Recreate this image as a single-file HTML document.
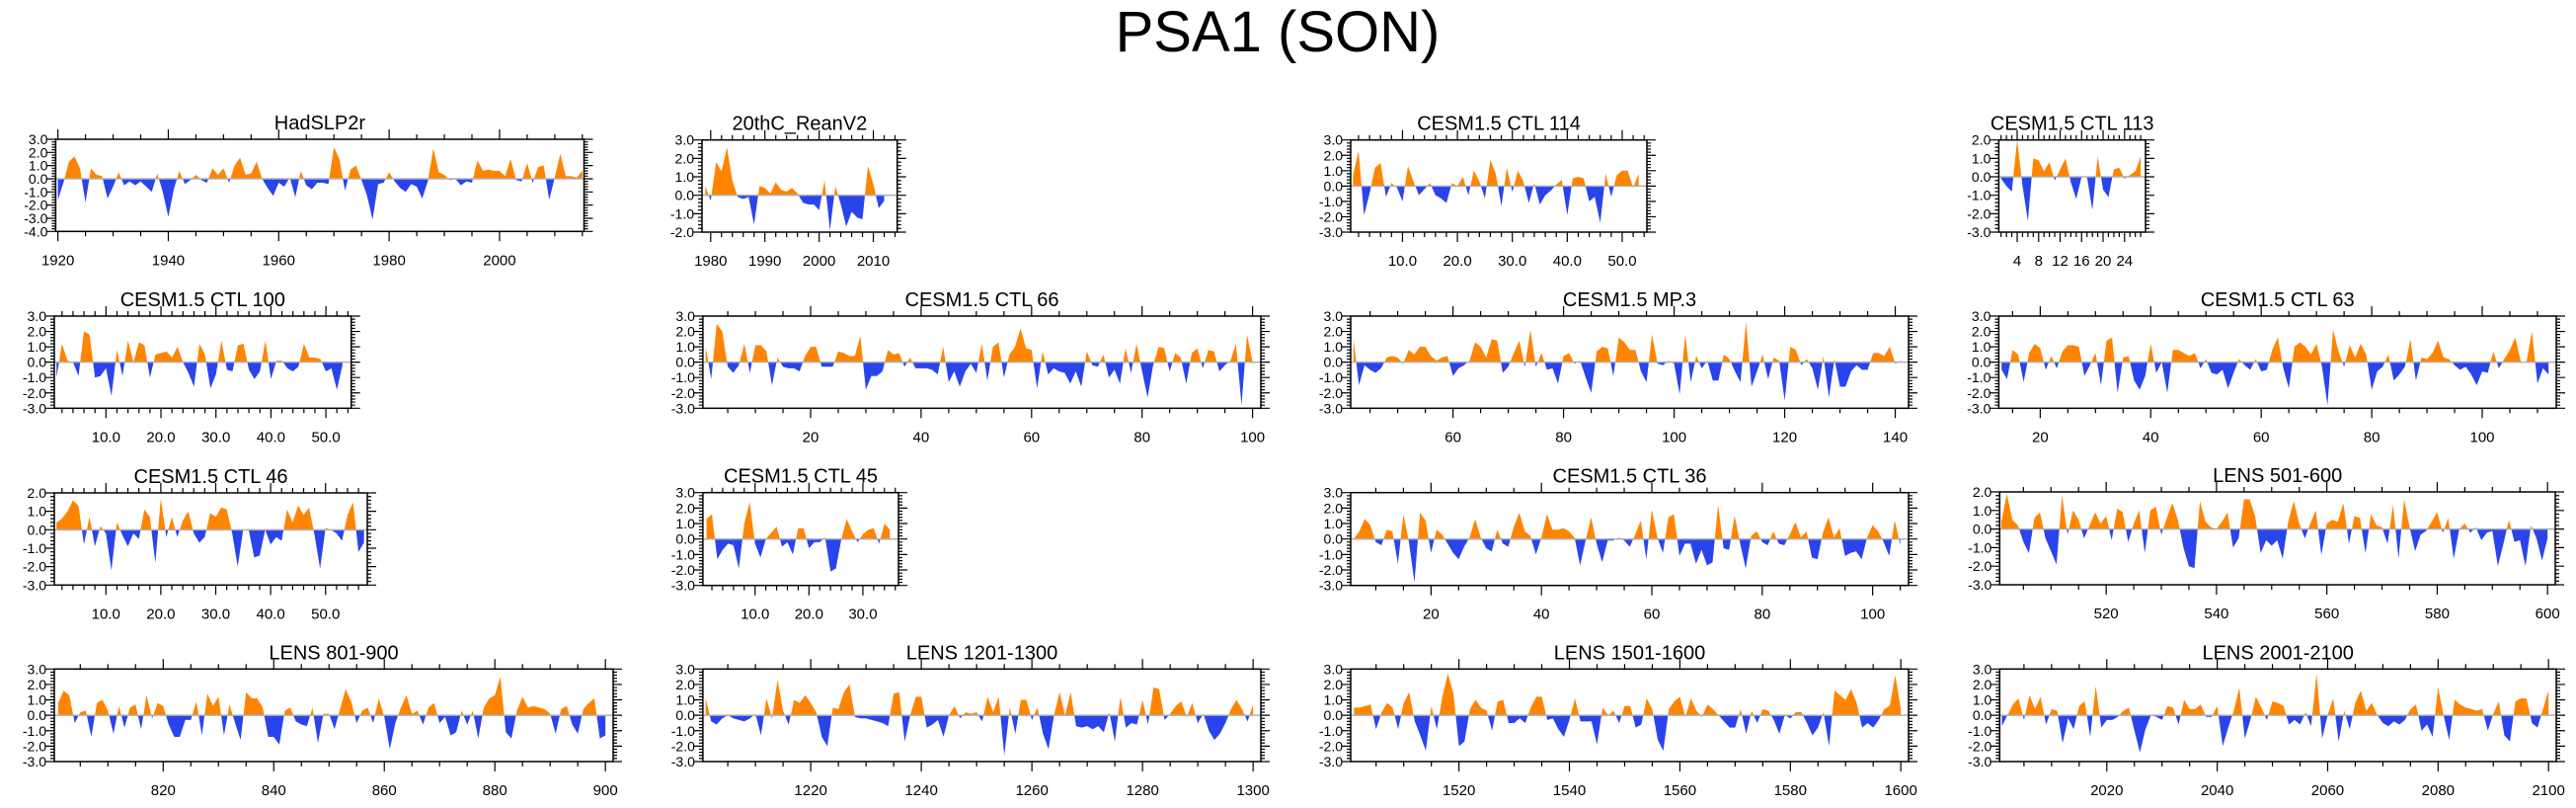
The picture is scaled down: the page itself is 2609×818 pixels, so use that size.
<!DOCTYPE html>
<html><head><meta charset="utf-8"><title>PSA1 (SON)</title>
<style>
html,body{margin:0;padding:0;background:#fff;}
svg text{font-family:"Liberation Sans",Arial,sans-serif;fill:#000;}
</style></head>
<body>
<svg id="fig" xmlns="http://www.w3.org/2000/svg" width="2609" height="813" viewBox="0 0 2609 813">
<rect width="2609" height="813" fill="#fff"/>
<text x="1294" y="52" font-size="58" text-anchor="middle">PSA1 (SON)</text>
</svg>
<script>
// ---- data ----
const titles = ["HadSLP2r","20thC_ReanV2","CESM1.5 CTL 114","CESM1.5 CTL 113",
 "CESM1.5 CTL 100","CESM1.5 CTL 66","CESM1.5 MP.3","CESM1.5 CTL 63",
 "CESM1.5 CTL 46","CESM1.5 CTL 45","CESM1.5 CTL 36","LENS 501-600",
 "LENS 801-900","LENS 1201-1300","LENS 1501-1600","LENS 2001-2100"];
const startX = [1920,1979,1,1,1,1,42,13,1,1,6,501,801,1201,1501,2001];
const yRanges = [[-4,3],[-2,3],[-3,3],[-3,2],[-3,3],[-3,3],[-3,3],[-3,3],[-3,2],[-3,3],[-3,3],[-3,2],[-3,3],[-3,3],[-3,3],[-3,3]];
const xRanges = [[1919.6,2015.3],[1978.4,2014.4],[0.57,54.5],[0.58,27.9],[0.6,54.6],[0.5,101.5],[41.5,142.4],[12.5,113.4],[0.6,57.6],[0.33,36.6],[5.45,106.5],[500.7,601.4],[800.3,901.4],[1200.5,1301.4],[1500.4,1601.4],[2000.6,2101.4]];
const majorSteps = [20,10,10,4,10,20,20,20,10,10,20,20,20,20,20,20];
const minorSteps = [5,2,2,1,2,5,5,5,2,2,5,5,5,5,5,5];
const labelDecimals = [0,0,1,0,1,0,0,0,1,1,0,0,0,0,0,0];

const s0 = [-1.6,-0.3,1.3,1.7,0.8,-1.8,0.8,0.3,0.2,-1.5,-0.6,0.5,-0.5,-0.2,-0.5,-0.2,-0.6,-1.0,0.4,-1.0,-2.9,-0.8,0.6,-0.4,-0.1,0.3,-0.1,-0.3,0.8,0.3,0.8,-0.3,1.0,1.6,0.3,0.4,1.3,0.0,-0.7,-1.3,-0.3,-0.6,0.1,-1.4,0.6,-0.5,-0.8,-0.3,-0.3,-0.4,2.4,1.5,-0.9,0.7,1.0,-0.1,-1.3,-3.1,-0.4,-0.3,0.5,-0.2,-0.7,-1.0,-0.4,-0.6,-1.5,-0.2,2.3,0.5,0.3,-0.1,0.0,-0.5,-0.2,-0.3,1.4,0.6,0.7,0.6,0.6,0.2,1.5,-0.1,-0.2,1.2,-0.3,0.9,1.0,-1.6,0.1,1.9,0.2,0.2,0.1,0.6];
const s1 = [0.5,-0.3,1.8,1.3,2.6,0.8,-0.1,-0.2,-0.1,-1.6,0.5,0.4,0.1,0.7,0.3,0.2,0.4,0.1,-0.4,-0.5,-0.5,-0.8,0.8,-1.9,0.5,-0.5,-1.7,-0.9,-1.2,-1.3,1.6,0.6,-0.7,-0.3];
const s2 = [0.7,2.3,-1.9,-0.5,1.2,1.5,-0.7,0.2,-0.1,-1.0,1.3,0.3,-0.6,-0.2,0.2,-0.6,-0.8,-1.1,0.2,0.0,0.6,-0.6,1.0,0.3,-0.8,1.7,0.8,-1.3,1.2,-0.4,1.0,0.3,-1.1,0.2,-1.2,-0.6,-0.3,0.1,0.4,-1.9,0.5,0.6,0.5,-1.0,-0.7,-2.4,0.8,-0.7,0.7,1.0,1.0,-0.1,0.8];
const s3 = [-0.1,-0.5,-0.8,2.0,-0.5,-2.4,1.0,0.9,0.3,0.8,-0.2,0.4,1.0,-0.3,-1.2,0.0,0.0,-1.8,1.1,-0.7,-1.1,0.4,0.5,-0.1,0.1,0.3,1.1];
const s4 = [-1.0,1.2,0.1,0.0,-0.9,2.0,1.8,-1.0,-0.9,-0.4,-2.2,0.8,-0.9,1.4,0.0,1.3,1.1,-1.0,0.5,0.6,0.7,0.3,1.0,0.0,-0.7,-1.6,1.2,0.5,-1.7,-0.8,1.4,-0.5,-0.6,1.1,1.2,-0.5,-1.1,-0.6,1.4,-1.1,0.1,0.1,-0.4,-0.6,-0.3,1.2,0.3,0.3,0.2,-0.6,-0.4,-1.8,-0.2];
const s5 = [1.0,-1.1,2.5,2.0,-0.3,-0.7,-0.2,1.2,-0.7,1.1,1.1,0.7,-1.5,0.3,-0.3,-0.4,-0.4,-0.6,0.4,1.0,1.0,-0.3,-0.3,-0.3,0.7,0.6,0.4,0.4,1.7,-1.8,-0.9,-0.9,-0.6,0.8,0.5,0.6,-0.3,0.3,-0.4,-0.4,-0.4,-0.5,-0.8,1.0,-1.3,-0.6,-1.6,-0.6,-0.1,-0.7,1.2,-1.2,1.0,1.3,-1.0,0.5,1.0,2.2,0.9,0.8,-1.7,0.7,-0.8,-0.4,-0.6,-0.7,-1.4,-0.6,-1.6,0.7,-0.2,-0.3,0.5,-1.0,-0.5,-1.4,0.9,-0.7,1.2,-0.6,-2.3,-0.2,1.0,0.9,-0.6,0.6,0.3,-1.4,0.6,0.9,-0.4,0.8,0.7,-0.6,-0.2,0.1,1.2,-2.8,1.8,0.0];
const s6 = [1.5,-1.5,-0.2,-0.5,-0.7,-0.4,0.3,0.4,0.3,-0.1,0.8,0.5,1.0,1.0,0.4,0.1,0.3,0.4,-0.9,-0.4,-0.2,0.1,1.3,1.0,0.3,1.5,1.4,-0.7,-0.3,0.6,1.4,-0.3,2.1,-0.3,0.6,-0.5,-0.4,-1.4,0.4,0.6,-0.1,0.1,-1.0,-2.0,0.7,1.0,0.9,-0.9,1.6,1.3,0.8,0.8,-0.6,-1.3,1.8,-0.1,-0.2,0.1,-0.1,-2.1,1.8,-1.3,0.4,-0.4,0.1,-1.2,-1.2,0.5,0.2,-0.6,-1.3,2.6,-1.6,-0.6,0.5,-1.1,0.3,0.1,-2.5,1.0,0.8,-0.2,0.2,-0.4,-1.8,0.4,-2.3,0.2,-1.6,-1.6,-0.6,-0.2,-0.5,-0.5,0.6,0.6,0.4,1.0,-0.1,0.1];
const s7 = [-0.5,-1.1,0.8,0.5,-1.3,0.6,1.2,0.9,-0.5,0.4,-0.4,0.7,1.1,1.1,1.0,-0.9,-0.2,0.6,-1.5,1.4,1.6,-2.0,0.3,0.4,-1.2,-1.8,-0.9,1.2,-0.7,0.0,-2.0,0.8,0.8,0.6,0.4,0.6,-0.4,0.2,-0.7,-0.8,-0.5,-1.7,-0.7,0.2,-0.2,-0.5,0.2,-0.6,-0.5,0.8,1.6,-0.4,-1.7,1.0,1.3,1.0,0.5,1.2,-0.3,-2.8,2.1,0.7,-0.3,1.1,0.3,1.2,0.5,-1.8,-0.6,-0.3,0.5,-1.2,-0.8,-0.3,1.5,-1.2,0.3,0.2,0.6,1.4,0.3,0.2,-0.2,-0.5,-0.3,-0.8,-1.5,-0.6,-0.7,0.7,-0.4,0.2,0.8,1.6,0.0,0.0,2.0,-1.4,-0.4,-0.8];
const s8 = [0.4,0.6,1.0,1.6,1.3,-0.8,0.7,-0.9,0.2,-0.2,-2.2,0.4,-0.3,-0.9,-0.2,-0.5,1.1,0.7,-1.8,1.7,-0.4,0.7,-0.4,0.5,1.0,-0.2,-0.7,-0.4,0.9,0.7,1.2,1.1,-0.2,-2.0,0.0,0.0,-1.5,-1.4,0.0,-0.8,-0.4,-0.6,1.1,0.4,1.3,0.8,1.2,-0.3,-2.1,0.1,0.0,-0.2,-0.6,0.8,1.5,-1.2,-0.7];
const s9 = [1.3,1.6,-1.3,-0.7,-0.3,-0.4,-1.9,1.0,2.4,-0.3,-1.2,0.0,0.4,0.8,-0.5,-0.2,-1.0,0.7,0.7,-0.6,-0.2,-0.2,0.1,-2.1,-1.9,0.0,1.3,0.5,-0.2,0.3,0.6,0.7,-0.3,1.0,0.6];
const s10 = [0.0,0.5,1.3,0.9,-0.2,-0.4,0.6,0.5,-1.6,1.6,-0.2,-2.8,1.7,1.2,-0.9,0.6,0.3,-0.3,-0.9,-1.3,-0.5,0.1,1.3,0.1,-0.6,-0.8,0.6,-0.3,-0.5,0.8,1.7,0.5,0.2,-1.0,0.1,1.6,0.6,0.6,0.7,0.5,0.1,-1.7,-0.1,1.4,-0.3,-1.5,-0.1,-0.1,0.1,-0.1,-0.5,0.3,1.2,-1.3,1.9,0.1,-0.9,1.4,1.6,-1.1,-0.3,-0.3,-1.6,-0.7,-1.7,-1.5,2.2,-0.6,-0.7,1.5,-0.3,-1.9,0.2,0.5,-0.2,-0.4,0.5,-0.3,-0.4,0.3,1.1,0.1,0.5,-1.2,-1.3,0.4,1.4,0.1,0.7,-1.1,-0.9,-0.8,-1.3,0.1,0.9,0.5,-0.2,-1.1,1.2,-0.4];
const s11 = [0.4,1.9,0.5,0.2,-0.7,-1.3,0.6,0.9,-0.5,-1.2,-1.9,1.8,-0.3,1.0,0.5,-0.5,0.2,0.9,0.3,0.7,-0.6,1.1,0.9,-0.7,0.3,1.0,-1.3,1.0,1.2,-0.3,0.6,1.4,0.5,-1.0,-2.0,-2.1,1.5,0.4,0.1,0.0,0.4,0.9,-1.0,-0.5,1.6,1.6,0.7,-1.3,-0.6,-0.9,-0.6,-1.6,0.4,1.5,0.3,-0.5,0.3,1.0,-1.4,0.3,0.5,0.4,1.4,-0.8,0.7,0.6,-1.3,0.8,0.2,0.1,-0.8,1.3,-1.6,1.6,0.1,-1.2,-0.3,-0.1,0.4,0.9,-0.2,0.6,-1.6,0.0,0.3,-0.2,0.1,-0.6,-0.2,-0.1,-2.0,-0.8,0.5,-0.7,-0.6,-2.0,0.2,-0.5,-1.7,-0.5];
const s12 = [0.8,1.6,1.3,-0.5,0.2,0.3,-1.4,0.8,1.0,0.3,-1.2,0.6,-0.8,0.5,0.7,-0.9,1.3,-0.2,0.8,0.6,-0.6,-1.4,-1.4,-0.3,-0.3,0.9,-1.3,1.4,0.6,1.2,-1.3,0.7,-0.5,-1.6,1.5,1.1,1.1,0.5,-1.4,-1.4,-1.9,0.3,0.5,-0.4,-0.6,-0.7,0.5,-1.8,0.1,0.1,-0.9,0.4,1.7,0.9,-0.5,0.3,0.5,-0.5,1.1,-0.1,-2.2,-0.5,0.5,1.3,0.1,0.3,-0.6,0.5,0.8,-0.5,-0.1,-1.3,-1.1,0.3,-0.6,0.3,-1.5,0.5,1.1,1.3,2.5,-1.1,-1.5,0.3,1.2,0.5,0.6,0.5,0.4,0.1,-1.2,0.4,0.6,-0.6,-1.2,0.4,0.8,1.1,-1.5,-1.3];
const s13 = [1.1,-0.4,-0.6,-0.2,0.0,-0.2,-0.3,-0.4,-0.2,0.1,-1.3,1.1,-0.2,2.3,0.3,-0.6,1.0,0.8,1.3,0.8,0.2,-1.4,-2.0,0.5,0.4,1.5,2.0,-0.1,-0.2,-0.2,-0.3,-0.4,-0.5,-0.7,1.4,1.5,-1.7,0.0,1.2,1.2,-0.8,-0.6,-0.3,-1.4,0.0,0.6,-0.2,0.2,0.1,0.2,-0.4,1.2,0.2,1.2,-2.6,0.5,-1.2,1.0,1.0,-0.3,0.5,-1.2,-2.2,0.0,1.5,0.0,1.5,-0.7,-0.8,-0.7,-0.9,-0.7,-1.1,0.2,-1.7,1.2,-0.8,-0.5,-0.6,1.0,-0.6,1.8,1.7,-0.3,0.1,0.6,0.9,-0.1,0.8,-0.5,0.1,-1.0,-1.6,-1.2,-0.5,0.4,1.0,0.4,-0.4,0.7];
const s14 = [0.5,0.5,0.6,0.7,-0.9,0.2,0.8,0.5,-0.9,0.8,1.5,-0.4,-1.3,-2.3,0.6,-0.9,1.2,2.7,1.4,-2.0,-1.7,0.4,1.0,0.5,0.3,-1.0,0.9,1.0,-0.5,-0.5,-0.2,-0.5,0.5,1.2,1.2,-0.3,-0.2,-0.9,-1.4,-0.3,1.1,-0.4,-0.4,-0.4,-1.9,0.5,0.0,0.3,-0.5,0.6,0.6,-0.8,-0.6,1.1,0.4,-1.6,-2.3,0.4,0.9,1.2,-0.1,1.1,0.3,-0.1,0.7,0.4,0.0,-0.4,-0.8,-0.8,0.4,-1.2,0.3,-0.5,0.4,0.3,-0.3,-1.2,0.0,-0.2,0.2,0.2,-0.5,-1.3,-0.8,0.2,-2.0,1.6,1.3,1.0,1.7,0.8,-0.8,-0.5,-0.8,-0.3,0.4,0.6,2.6,0.4];
const s15 = [-0.7,0.0,0.7,1.1,-0.3,1.3,0.4,1.2,-0.6,0.4,0.3,-1.8,-0.2,-0.9,0.6,0.9,-1.4,1.9,-0.8,-0.3,-0.3,-0.1,0.3,0.5,-1.0,-2.4,-0.9,0.0,-0.1,-0.3,0.6,0.5,-0.6,1.0,0.4,0.4,0.7,-0.1,-0.1,0.6,-2.0,-0.8,0.3,1.8,-1.5,-0.3,1.2,0.5,-0.3,0.9,0.8,0.6,-0.6,-0.3,-0.6,0.2,-0.7,2.7,-1.5,0.0,1.1,-1.7,0.3,-0.9,0.8,1.6,0.3,0.8,0.0,-0.5,-0.7,-0.4,-0.6,-0.3,0.4,0.7,-1.0,-0.6,-1.4,1.8,0.0,-1.6,1.0,0.7,0.5,0.4,0.3,0.4,-1.0,0.1,0.9,-1.3,-1.7,0.9,1.1,1.1,-0.5,-0.8,0.4,1.6];
const seriesValues = [s0,s1,s2,s3,s4,s5,s6,s7,s8,s9,s10,s11,s12,s13,s14,s15];

// ---- layout (pixel boxes, not data) ----
const boxes = [
 [56.4,591.5,141,234.3],[711,908.7,141.7,235],[1368,1668,141.7,235],[2024.4,2173,141.7,235],
 [55,355.7,320,413.3],[711.9,1277,320,413.3],[1368,1933,320,413.3],[2024.4,2589,320,413.3],
 [55,372,499,592.3],[711.9,910,498.7,592.7],[1368,1933,498.7,592.7],[2025.3,2588,498,592],
 [55,621,677.3,771],[711.9,1277,677.3,771],[1368,1933,677.3,771],[2025.3,2589,677.3,771]];

const NS = "http://www.w3.org/2000/svg";
const svg = document.getElementById('fig');
function mk(tag, attrs, parent){
  const e = document.createElementNS(NS, tag);
  for (const k in attrs) e.setAttribute(k, attrs[k]);
  (parent||svg).appendChild(e);
  return e;
}
const ORANGE = "#ff8400", BLUE = "#2a44ec";

seriesValues.forEach((vals, p) => {
  const [L,R,T,B] = boxes[p];
  const [xmin,xmax] = xRanges[p];
  const [ymin,ymax] = yRanges[p];
  const xs = v => L + (v - xmin) / (xmax - xmin) * (R - L);
  const ys = v => B - (v - ymin) / (ymax - ymin) * (B - T);
  const g = mk('g', {});
  
  

  // clip paths
  const y0 = ys(0);
  const cu = mk('clipPath', {id:'cu'+p}, g); mk('rect', {x:L, y:T, width:R-L, height:y0-T}, cu);
  const cd = mk('clipPath', {id:'cd'+p}, g); mk('rect', {x:L, y:y0, width:R-L, height:B-y0}, cd);

  let d = 'M' + xs(startX[p]).toFixed(2) + ' ' + y0.toFixed(2);
  vals.forEach((v,i) => { d += ' L' + xs(startX[p]+i).toFixed(2) + ' ' + ys(v).toFixed(2); });
  d += ' L' + xs(startX[p]+vals.length-1).toFixed(2) + ' ' + y0.toFixed(2) + ' Z';
  const up = mk('path', {d:d, fill:ORANGE, 'clip-path':'url(#cu'+p+')'}, g);
  
  
  const dn = mk('path', {d:d, fill:BLUE, 'clip-path':'url(#cd'+p+')'}, g);
  
  
  const zl = mk('line', {x1:L, x2:R, y1:y0, y2:y0, stroke:'#b0b0b0', 'stroke-width':1.5}, g);
  
  

  // frame
  const fr = mk('rect', {x:L, y:T, width:R-L, height:B-T, fill:'none', stroke:'#000', 'stroke-width':1.5}, g);
  
  

  // x ticks
  const mj = majorSteps[p], mn = minorSteps[p];
  let tp = '';
  for (let t = Math.ceil(xmin/mn)*mn; t <= xmax + 1e-9; t += mn) {
    const isMaj = Math.abs(t/mj - Math.round(t/mj)) < 1e-6;
    const len = isMaj ? 10 : 5, x = xs(t).toFixed(2);
    tp += `M${x} ${T} v${-len} M${x} ${B} v${len} `;
    if (isMaj) {
      const lab = mk('text', {x:x, y:B+34, 'font-size':15, 'text-anchor':'middle'}, g);
      lab.textContent = labelDecimals[p] ? t.toFixed(1) : String(Math.round(t));
      
      
    }
  }
  // y ticks
  for (let k = Math.round(ymin*5); k <= Math.round(ymax*5); k++) {
    const v = k/5, isMaj = k % 5 === 0, y = ys(v).toFixed(2);
    const len = isMaj ? 9 : 4;
    tp += `M${L} ${y} h${-len} M${R} ${y} h${len} `;
    if (isMaj) {
      const lab = mk('text', {x:L-8, y:+y+5, 'font-size':14, 'text-anchor':'end'}, g);
      lab.textContent = v.toFixed(1);
      
      
    }
  }
  const tk = mk('path', {d:tp, stroke:'#000', 'stroke-width':1.2, fill:'none'}, g);
  
  

  const tt = mk('text', {x:((L+R)/2).toFixed(1), y:T-10, 'font-size':20, 'text-anchor':'middle'}, g);
  tt.textContent = titles[p];
  
  
});
</script>
</body></html>
